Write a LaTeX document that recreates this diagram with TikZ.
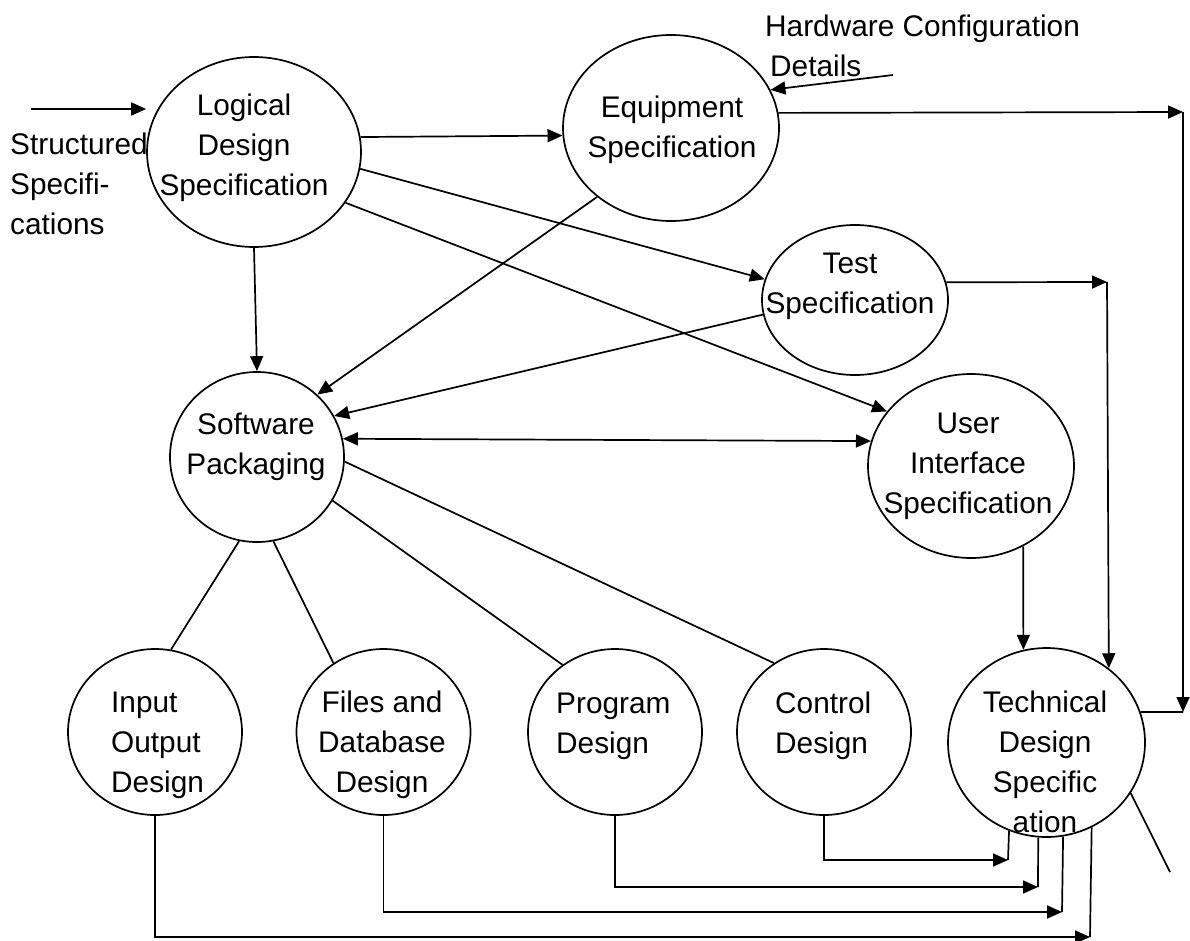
\documentclass[tikz,border=0pt]{standalone}
\usepackage{fontspec}
\setmainfont{Liberation Sans}
\usetikzlibrary{arrows.meta,shapes.geometric}
\begin{document}
\begin{tikzpicture}[x=1pt,y=-1pt,
  ell/.style={draw, line width=1.7pt, ellipse, inner sep=0pt},
  lbl/.style={inner sep=0pt, align=center, font=\fontsize{29.8}{40}\selectfont},
  lbll/.style={lbl, align=left, anchor=west},
  ln/.style={line width=1.7pt},
  arr/.style={ln, -{Triangle[length=15pt,width=13pt]}},
  darr/.style={ln, {Triangle[length=15pt,width=13pt]}-{Triangle[length=15pt,width=13pt]}}]
\useasboundingbox (0,0) rectangle (1190,941);

% ellipses
\node[ell, minimum width=214pt, minimum height=190pt] (lds) at (254,152) {};
\node[ell, minimum width=216pt, minimum height=186pt] (eq) at (671,128) {};
\node[ell, minimum width=186pt, minimum height=150pt] (ts) at (855,300) {};
\node[ell, minimum width=174pt, minimum height=170pt] (sp) at (257,457) {};
\node[ell, minimum width=206pt, minimum height=184pt] (ui) at (971,466) {};
\node[ell, minimum width=174pt, minimum height=166pt] (io) at (155,732) {};
\node[ell, minimum width=174pt, minimum height=166pt] (fdb) at (383.5,732) {};
\node[ell, minimum width=174pt, minimum height=166pt] (prg) at (615,732) {};
\node[ell, minimum width=174pt, minimum height=166pt] (ctl) at (824,732) {};
\node[ell, minimum width=197pt, minimum height=189pt] (tds) at (1046.5,742.5) {};

% texts
\node[lbl] (ldsT) at (244,147.4) {Logical\\Design\\Specification};
\node[lbll] (ssT) at (10,184.3) {Structured\\Specifi-\\cations};
\node[lbll] (hwT) at (765,46.3) {Hardware Configuration\\\hspace*{5pt}Details};
\node[lbl] (eqT) at (672,129.6) {Equipment\\Specification};
\node[lbl] (tsT) at (850,286.6) {Test\\Specification};
\node[lbl] (spT) at (256,446.9) {Software\\Packaging};
\node[lbl] (uiT) at (968,466.4) {User\\Interface\\Specification};
\node[lbll] (ioT) at (111,745) {Input\\Output\\Design};
\node[lbl] (fdbT) at (382,745) {Files and\\Database\\Design};
\node[lbll] (prgT) at (556,726) {Program\\Design};
\node[lbll] (ctlT) at (775,726) {Control\\Design};
\node[lbl] (tdsT) at (1045,762) {Technical\\Design\\Specific\\ation};

% input arrows
\coordinate (ssin) at (31,109);
\draw[arr] (ssin) -- (ssin -| lds.west);
\coordinate (hwend) at (893,75);
\draw[arr] (hwend) -- (eq.21);

% from logical design
\draw[arr] (lds.8) -- (eq.184.8);
\draw[arr] (lds.-9.7) -- (ts.167.7);
\draw[arr] (lds.-29.5) -- (ui.147.1);
\draw[arr] (lds.270) -- (sp.90);

% into software packaging
\draw[arr] (eq.223) -- (sp.46.8);
\draw[arr] (ts.189.2) -- (sp.28);
\draw[darr] (sp.12.2) -- (ui.166.5);
\draw[arr] (ui.-57.1) -- (tds.104.5);

% right side routes
\coordinate (c1) at (1183,112);
\coordinate (c2) at (1183,712);
\draw[arr] (eq.8.6) -- (c1);
\draw[arr] (c1) -- (c2);
\draw[ln] (c2) -- (tds.18.2);
\coordinate (c3) at (1107,282);
\draw[arr] (ts.11.3) -- (c3);
\draw[arr] (c3) -- (tds.50.9);

% software packaging to bottom row
\draw[ln] (sp.-102.9) -- (io.79.6);
\draw[ln] (sp.-79.2) -- (fdb.126.6);
\draw[ln] (sp.-30) -- (prg.128.2);
\draw[ln] (sp.-3.9) -- (ctl.126);

% bottom routes to technical design
\coordinate (k1) at (1008,860);
\draw[arr] (ctl.south) |- (k1);
\draw[ln] (k1) -- (tds.-113.9);
\coordinate (k2) at (1038,887);
\draw[arr] (prg.south) |- (k2);
\draw[ln] (k2) -- (tds.-95.2);
\coordinate (k3) at (1062,912);
\draw[arr] (fdb.south) |- (k3);
\draw[ln] (k3) -- (tds.-80.6);
\coordinate (k4) at (1090,937);
\draw[arr] (io.south) |- (k4);
\draw[ln] (k4) -- (tds.-62.8);

% free line from technical design
\coordinate (tx) at (1170,872);
\draw[ln] (tds.-31.85) -- (tx);
\end{tikzpicture}
\end{document}
